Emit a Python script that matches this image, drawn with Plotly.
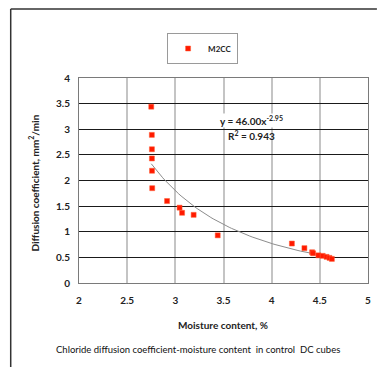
import numpy as np
import plotly.graph_objects as go

moisture = [2.75, 2.756, 2.757, 2.757, 2.758, 2.76, 2.914, 3.044, 3.07, 3.19, 3.44,
            4.21, 4.34, 4.42, 4.43, 4.485, 4.53, 4.57, 4.60, 4.625]
diffusion = [3.44, 2.89, 2.61, 2.43, 2.19, 1.85, 1.60, 1.47, 1.37, 1.33, 0.93,
             0.77, 0.68, 0.60, 0.58, 0.54, 0.53, 0.51, 0.49, 0.47]
fit_a, fit_b = 46.00, -2.95
fit_x = np.linspace(2.75, 4.63, 80)
fit_y = fit_a * fit_x ** fit_b

W, H = 378, 367
L, R, T, B = 79, 7, 78, 84
pw, ph = W - L - R, H - T - B

def px(x):
    return (x - L) / pw

def py(y):
    return (H - B - y) / ph

FONT = "Lato"
fig = go.Figure()
fig.add_trace(go.Scatter(x=fit_x, y=fit_y, mode="lines",
                         line=dict(color="#8c8c8c", width=1), showlegend=False,
                         hoverinfo="skip"))
fig.add_trace(go.Scatter(x=moisture, y=diffusion, mode="markers", name="M2CC",
                         marker=dict(symbol="square", size=5, color="#ff1a00",
                                     line=dict(color="#ff5a30", width=0.5))))

tf = dict(size=10, family=FONT, color="#222", weight="bold")
fig.update_layout(
    width=W, height=H, margin=dict(l=L, r=R, t=T, b=B),
    paper_bgcolor="white", plot_bgcolor="white",
    font=dict(family=FONT, size=10, color="#222"),
    showlegend=True,
    legend=dict(x=px(168), y=py(33), xanchor="left", yanchor="top",
                bordercolor="#9a9a9a", borderwidth=1, bgcolor="white",
                font=dict(size=8, family=FONT, weight="bold"), itemwidth=30,
                tracegroupgap=0),
    xaxis=dict(range=[2, 5], dtick=0.5, showgrid=True, gridcolor="#c4c4c4",
               gridwidth=1.5, zeroline=False, showline=True, linecolor="#7a7a7a",
               mirror=True, ticks="outside", ticklen=8, tickcolor="rgba(0,0,0,0)",
               tickfont=tf),
    yaxis=dict(range=[0, 4], dtick=0.5, showgrid=True, gridcolor="#1a1a1a",
               gridwidth=1, zeroline=False, showline=True, linecolor="#7a7a7a",
               mirror=True, ticks="outside", ticklen=6, tickcolor="rgba(0,0,0,0)",
               tickfont=tf),
)

ann = dict(xref="paper", yref="paper", showarrow=False,
           xanchor="center", yanchor="middle")
fig.add_annotation(x=px(33), y=py(183), text="Diffusion coefficient, mm<sup>2</sup>/min",
                   textangle=-90, font=dict(size=10, family=FONT, color="#222", weight="bold"), **ann)
fig.add_annotation(x=px(224), y=py(325), text="Moisture content, %",
                   font=dict(size=10, family=FONT, color="#222", weight="bold"), **ann)
fig.add_annotation(x=px(253), y=py(120), text="y = 46.00x<sup>-2.95</sup>",
                   bgcolor="white", borderpad=0,
                   font=dict(size=10, family=FONT, color="#222", weight="bold"), **ann)
fig.add_annotation(x=px(253), y=py(135), text="R<sup>2</sup> = 0.943",
                   font=dict(size=10, family=FONT, color="#222", weight="bold"), **ann)
fig.add_annotation(x=px(199), y=py(349),
                   text="Chloride diffusion coefficient-moisture content  in control  DC cubes",
                   font=dict(size=9.5, family=FONT, color="#111"), **ann)

# outer frame
fig.add_shape(type="line", xref="paper", yref="paper",
              x0=px(10), x1=px(380), y0=py(9), y1=py(9),
              line=dict(color="#333", width=1.5))
fig.add_shape(type="line", xref="paper", yref="paper",
              x0=px(10), x1=px(10), y0=py(9), y1=py(370),
              line=dict(color="#333", width=1.5))

fig.write_html("out.html")
